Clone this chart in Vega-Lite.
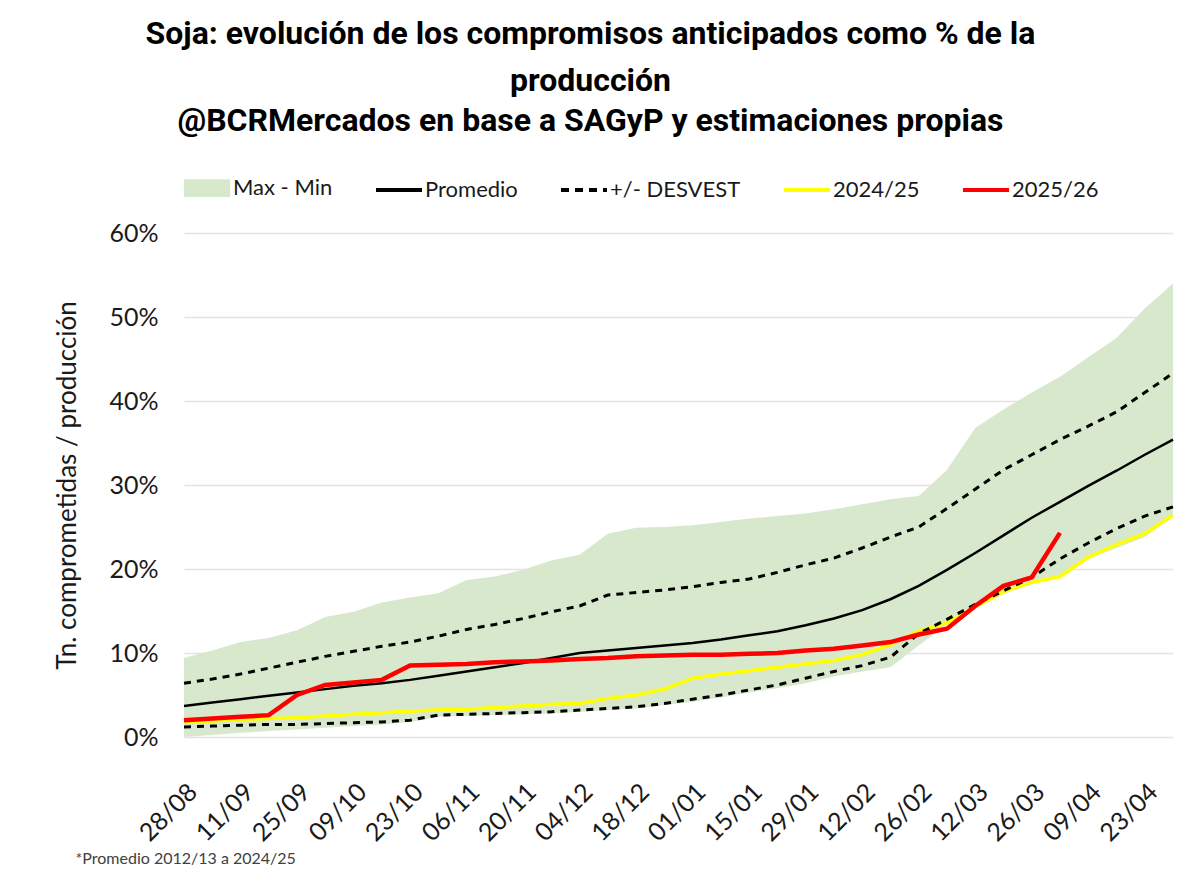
{
  "$schema": "https://vega.github.io/schema/vega-lite/v6.json",
  "width": 989,
  "height": 504,
  "autosize": "none",
  "padding": {"left": 184, "top": 233, "right": 28, "bottom": 147},
  "background": "#ffffff",
  "title": {
    "text": ["Soja: evolución de los compromisos anticipados como % de la", "producción"],
    "subtitle": "@BCRMercados en base a SAGyP y estimaciones propias",
    "anchor": "middle",
    "frame": "group",
    "dx": -88,
    "font": "Roboto",
    "fontSize": 32,
    "fontWeight": "bold",
    "color": "#000000",
    "lineHeight": 47,
    "subtitleFont": "Roboto",
    "subtitleFontSize": 32,
    "subtitleFontWeight": "bold",
    "subtitleColor": "#000000",
    "subtitlePadding": 8,
    "offset": 25
  },
  "data": {
    "values": [
      {"f": "28/08", "mx": 9.4, "mn": 0.0, "pr": 3.7, "su": 6.4, "in": 1.2, "a": 1.8, "b": 2.0},
      {"f": "04/09", "mx": 10.3, "mn": 0.25, "pr": 4.1, "su": 6.9, "in": 1.3, "a": 1.9, "b": 2.2},
      {"f": "11/09", "mx": 11.3, "mn": 0.5, "pr": 4.5, "su": 7.5, "in": 1.4, "a": 2.1, "b": 2.4},
      {"f": "18/09", "mx": 11.8, "mn": 0.7, "pr": 4.9, "su": 8.2, "in": 1.5, "a": 2.2, "b": 2.6},
      {"f": "25/09", "mx": 12.7, "mn": 0.9, "pr": 5.3, "su": 8.9, "in": 1.5, "a": 2.3, "b": 5.0},
      {"f": "02/10", "mx": 14.3, "mn": 1.1, "pr": 5.7, "su": 9.6, "in": 1.6, "a": 2.5, "b": 6.2},
      {"f": "09/10", "mx": 14.9, "mn": 1.3, "pr": 6.1, "su": 10.2, "in": 1.7, "a": 2.7, "b": 6.5},
      {"f": "16/10", "mx": 16.0, "mn": 1.5, "pr": 6.4, "su": 10.8, "in": 1.8, "a": 2.9, "b": 6.8},
      {"f": "23/10", "mx": 16.6, "mn": 1.8, "pr": 6.8, "su": 11.3, "in": 2.0, "a": 3.1, "b": 8.5},
      {"f": "30/10", "mx": 17.1, "mn": 2.4, "pr": 7.3, "su": 12.0, "in": 2.6, "a": 3.2, "b": 8.6},
      {"f": "06/11", "mx": 18.7, "mn": 2.5, "pr": 7.8, "su": 12.8, "in": 2.7, "a": 3.3, "b": 8.7},
      {"f": "13/11", "mx": 19.1, "mn": 2.6, "pr": 8.3, "su": 13.4, "in": 2.8, "a": 3.5, "b": 8.9},
      {"f": "20/11", "mx": 19.9, "mn": 2.7, "pr": 8.8, "su": 14.1, "in": 2.9, "a": 3.7, "b": 9.0},
      {"f": "27/11", "mx": 21.0, "mn": 2.8, "pr": 9.4, "su": 14.9, "in": 3.0, "a": 3.9, "b": 9.1},
      {"f": "04/12", "mx": 21.7, "mn": 3.0, "pr": 10.0, "su": 15.6, "in": 3.2, "a": 4.0, "b": 9.3},
      {"f": "11/12", "mx": 24.2, "mn": 3.2, "pr": 10.3, "su": 16.9, "in": 3.4, "a": 4.6, "b": 9.4},
      {"f": "18/12", "mx": 24.9, "mn": 3.4, "pr": 10.6, "su": 17.2, "in": 3.6, "a": 5.0, "b": 9.6},
      {"f": "25/12", "mx": 25.0, "mn": 3.8, "pr": 10.9, "su": 17.5, "in": 4.0, "a": 5.7, "b": 9.7},
      {"f": "01/01", "mx": 25.2, "mn": 4.2, "pr": 11.2, "su": 17.9, "in": 4.5, "a": 7.0, "b": 9.8},
      {"f": "08/01", "mx": 25.6, "mn": 4.7, "pr": 11.6, "su": 18.4, "in": 5.0, "a": 7.5, "b": 9.8},
      {"f": "15/01", "mx": 26.0, "mn": 5.3, "pr": 12.1, "su": 18.8, "in": 5.6, "a": 7.9, "b": 9.9},
      {"f": "22/01", "mx": 26.3, "mn": 5.8, "pr": 12.6, "su": 19.6, "in": 6.2, "a": 8.3, "b": 10.0},
      {"f": "29/01", "mx": 26.6, "mn": 6.4, "pr": 13.3, "su": 20.5, "in": 7.0, "a": 8.7, "b": 10.3},
      {"f": "05/02", "mx": 27.1, "mn": 7.2, "pr": 14.1, "su": 21.3, "in": 7.8, "a": 9.1, "b": 10.5},
      {"f": "12/02", "mx": 27.7, "mn": 7.8, "pr": 15.1, "su": 22.5, "in": 8.5, "a": 9.8, "b": 10.9},
      {"f": "19/02", "mx": 28.3, "mn": 8.3, "pr": 16.4, "su": 23.8, "in": 9.5, "a": 11.0, "b": 11.3},
      {"f": "26/02", "mx": 28.7, "mn": 10.9, "pr": 18.0, "su": 25.0, "in": 12.3, "a": 12.6, "b": 12.2},
      {"f": "05/03", "mx": 31.8, "mn": 13.4, "pr": 19.9, "su": 27.2, "in": 14.0, "a": 13.6, "b": 12.9},
      {"f": "12/03", "mx": 36.8, "mn": 15.3, "pr": 21.9, "su": 29.5, "in": 15.8, "a": 15.5, "b": 15.6},
      {"f": "19/03", "mx": 39.0, "mn": 17.0, "pr": 24.0, "su": 31.8, "in": 17.4, "a": 17.3, "b": 18.0},
      {"f": "26/03", "mx": 41.0, "mn": 18.3, "pr": 26.1, "su": 33.6, "in": 19.0, "a": 18.4, "b": 19.0},
      {"f": "02/04", "mx": 42.9, "mn": 19.0, "pr": 28.0, "su": 35.4, "in": 21.2, "a": 19.1, "b": 24.3},
      {"f": "09/04", "mx": 45.2, "mn": 21.2, "pr": 29.9, "su": 37.0, "in": 23.1, "a": 21.4},
      {"f": "16/04", "mx": 47.5, "mn": 22.5, "pr": 31.7, "su": 38.7, "in": 24.8, "a": 22.9},
      {"f": "23/04", "mx": 51.0, "mn": 23.8, "pr": 33.6, "su": 41.0, "in": 26.3, "a": 24.2},
      {"f": "30/04", "mx": 54.0, "mn": 26.2, "pr": 35.4, "su": 43.3, "in": 27.4, "a": 26.4}
    ]
  },
  "encoding": {
    "x": {
      "field": "f",
      "type": "ordinal",
      "scale": {
        "type": "point",
        "padding": 0,
        "domain": ["28/08","04/09","11/09","18/09","25/09","02/10","09/10","16/10","23/10","30/10","06/11","13/11","20/11","27/11","04/12","11/12","18/12","25/12","01/01","08/01","15/01","22/01","29/01","05/02","12/02","19/02","26/02","05/03","12/03","19/03","26/03","02/04","09/04","16/04","23/04","30/04"]
      },
      "axis": {
        "values": ["28/08","11/09","25/09","09/10","23/10","06/11","20/11","04/12","18/12","01/01","15/01","29/01","12/02","26/02","12/03","26/03","09/04","23/04"],
        "labelAngle": -45,
        "labelFont": "Lato",
        "labelFontSize": 25,
        "labelColor": "#1a1a1a",
        "labelPadding": 42,
        "ticks": false,
        "domain": false,
        "grid": false,
        "title": "*Promedio 2012/13 a 2024/25",
        "titleFont": "Lato",
        "titleFontSize": 16,
        "titleFontWeight": "normal",
        "titleColor": "#404040",
        "titleAnchor": "start",
        "titleAlign": "left",
        "titleBaseline": "middle",
        "titleX": -109,
        "titleY": 121
      }
    }
  },
  "layer": [
    {
      "mark": {"type": "area", "opacity": 1},
      "encoding": {
        "y": {
          "field": "mx",
          "type": "quantitative",
          "scale": {"domain": [0, 60], "nice": false},
          "axis": {
            "values": [0, 10, 20, 30, 40, 50, 60],
            "labelExpr": "datum.value + '%'",
            "labelFont": "Lato",
            "labelFontSize": 25,
            "labelColor": "#1a1a1a",
            "labelPadding": 26,
            "ticks": false,
            "domain": false,
            "grid": true,
            "gridColor": "#e3e3e3",
            "gridWidth": 1.5,
            "title": "Tn. comprometidas / producción",
            "titleFont": "Lato",
            "titleFontSize": 26,
            "titleFontWeight": "normal",
            "titleColor": "#1a1a1a",
            "titlePadding": 28
          }
        },
        "y2": {"field": "mn"},
        "color": {
          "datum": "Max - Min",
          "type": "nominal",
          "scale": {
            "domain": ["Max - Min", "Promedio", "+/- DESVEST", "2024/25", "2025/26"],
            "range": ["#d7e8cd", "#000000", "#000000", "#ffff00", "#ff0000"]
          },
          "legend": {
            "title": null,
            "orient": "none",
            "legendX": -2,
            "legendY": -70,
            "direction": "horizontal",
            "columnPadding": 35,
            "symbolType": "stroke",
            "symbolSize": 2116,
            "symbolStrokeWidth": 4,
            "labelFont": "Lato",
            "labelFontSize": 22,
            "labelColor": "#1a1a1a",
            "labelOffset": 1,
            "encoding": {
              "symbols": {
                "shape": {"value": {"expr": "datum.value === 'Max - Min' ? 'M-0.92,-0.3L0.92,-0.3L0.92,0.3L-0.92,0.3Z' : 'stroke'"}},
                "fill": {"value": {"expr": "datum.value === 'Max - Min' ? '#d7e8cd' : 'transparent'"}},
                "stroke": {"value": {"expr": "datum.value === 'Max - Min' ? 'transparent' : datum.value === '2024/25' ? '#ffff00' : datum.value === '2025/26' ? '#ff0000' : '#000000'"}},
                "strokeDash": {"value": {"expr": "datum.value === '+/- DESVEST' ? [8, 6] : [1, 0]"}}
              }
            }
          }
        }
      }
    },
    {
      "mark": {"type": "line", "strokeWidth": 3.5},
      "encoding": {"y": {"field": "a", "type": "quantitative"}, "color": {"datum": "2024/25"}}
    },
    {
      "mark": {"type": "line", "strokeWidth": 3, "strokeDash": [7, 6]},
      "encoding": {"y": {"field": "su", "type": "quantitative"}, "color": {"datum": "+/- DESVEST"}}
    },
    {
      "mark": {"type": "line", "strokeWidth": 3, "strokeDash": [7, 6]},
      "encoding": {"y": {"field": "in", "type": "quantitative"}, "color": {"datum": "+/- DESVEST"}}
    },
    {
      "mark": {"type": "line", "strokeWidth": 2.5},
      "encoding": {"y": {"field": "pr", "type": "quantitative"}, "color": {"datum": "Promedio"}}
    },
    {
      "mark": {"type": "line", "strokeWidth": 4.5},
      "encoding": {"y": {"field": "b", "type": "quantitative"}, "color": {"datum": "2025/26"}}
    }
  ],
  "config": {"view": {"stroke": null}}
}
